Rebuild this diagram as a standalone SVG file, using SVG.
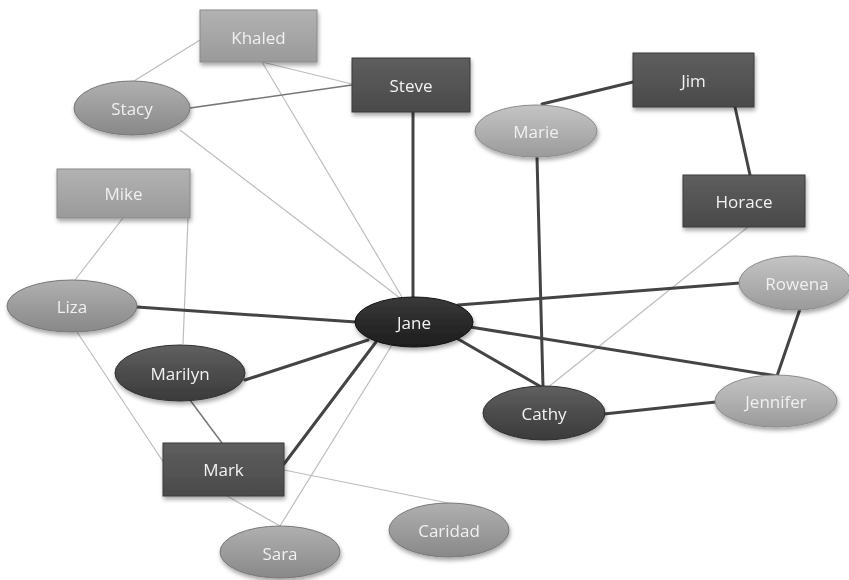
<svg xmlns="http://www.w3.org/2000/svg" width="849" height="580" viewBox="0 0 849 580">
<defs>
<filter id="sh" x="-20%" y="-20%" width="140%" height="160%"><feDropShadow dx="1" dy="3" stdDeviation="2" flood-color="#000" flood-opacity="0.35"/></filter>
<linearGradient id="gLight" x1="0" y1="0" x2="0" y2="1"><stop offset="0" stop-color="#c4c4c4"/><stop offset="0.5" stop-color="#b0b0b0"/><stop offset="1" stop-color="#9a9a9a"/></linearGradient>
<linearGradient id="gMid" x1="0" y1="0" x2="0" y2="1"><stop offset="0" stop-color="#b0b0b0"/><stop offset="0.5" stop-color="#9c9c9c"/><stop offset="1" stop-color="#888"/></linearGradient>
<linearGradient id="gRect" x1="0" y1="0" x2="0" y2="1"><stop offset="0" stop-color="#b2b2b2"/><stop offset="1" stop-color="#9a9a9a"/></linearGradient>
<linearGradient id="gDark" x1="0" y1="0" x2="0" y2="1"><stop offset="0" stop-color="#5e5e5e"/><stop offset="1" stop-color="#4a4a4a"/></linearGradient>
<linearGradient id="gDarkE" x1="0" y1="0" x2="0" y2="1"><stop offset="0" stop-color="#606060"/><stop offset="0.5" stop-color="#4c4c4c"/><stop offset="1" stop-color="#3a3a3a"/></linearGradient>
<linearGradient id="gJane" x1="0" y1="0" x2="0" y2="1"><stop offset="0" stop-color="#3a3a3a"/><stop offset="0.5" stop-color="#2a2a2a"/><stop offset="1" stop-color="#1e1e1e"/></linearGradient>
</defs>
<style>
.thick{stroke:#444;stroke-width:3;fill:none;stroke-linecap:round}
.thin{stroke:#bdbdbd;stroke-width:1.2;fill:none}
.mid{stroke:#777;stroke-width:1.5;fill:none}
.node{filter:url(#sh)}
.rl{fill:url(#gRect);stroke:#8a8a8a;stroke-width:1}
.rd{fill:url(#gDark);stroke:#3a3a3a;stroke-width:1}
.el{fill:url(#gLight);stroke:#8c8c8c;stroke-width:1}
.em{fill:url(#gMid);stroke:#777;stroke-width:1}
.ed{fill:url(#gDarkE);stroke:#2e2e2e;stroke-width:1}
.ej{fill:url(#gJane);stroke:#111;stroke-width:1}
text{font-family:"Open Sans","Noto Sans","Liberation Sans",sans-serif;font-size:17px;text-anchor:middle;dominant-baseline:central;fill:#f2f2f2}
.tl{fill:#f0f0f0}
</style>
<g id="connectors">
<line class="thin" x1="200" y1="40" x2="134" y2="81"/>
<line class="thin" x1="262" y1="62" x2="352" y2="84"/>
<line class="thin" x1="262" y1="62" x2="402" y2="297"/>
<line class="thin" x1="180" y1="130" x2="400" y2="298"/>
<line class="mid" x1="190" y1="108" x2="352" y2="85"/>
<line class="thick" x1="413" y1="112" x2="413" y2="297"/>
<line class="thick" x1="633" y1="82" x2="542" y2="104"/>
<line class="thick" x1="735" y1="107" x2="750" y2="175"/>
<line class="thick" x1="537" y1="157" x2="543" y2="387"/>
<line class="thin" x1="748" y1="227" x2="547" y2="388"/>
<line class="thick" x1="458" y1="305" x2="740" y2="283"/>
<line class="thick" x1="470" y1="327" x2="777" y2="376"/>
<line class="thick" x1="458" y1="339" x2="543" y2="388"/>
<line class="thick" x1="800" y1="309" x2="777" y2="376"/>
<line class="thick" x1="604" y1="414" x2="716" y2="402"/>
<line class="thin" x1="123" y1="218" x2="75" y2="280"/>
<line class="thin" x1="188" y1="218" x2="183" y2="344"/>
<line class="thick" x1="137" y1="307" x2="356" y2="322"/>
<line class="thin" x1="77" y1="332" x2="164" y2="463"/>
<line class="mid" x1="190" y1="400" x2="222" y2="443"/>
<line class="thick" x1="245" y1="380" x2="368" y2="340"/>
<line class="thick" x1="284" y1="464" x2="376" y2="342"/>
<line class="thin" x1="227" y1="496" x2="280" y2="526"/>
<line class="thin" x1="280" y1="526" x2="392" y2="345"/>
<line class="thin" x1="284" y1="470" x2="448" y2="503"/>
</g>
<g id="Khaled" class="node"><rect class="rl" x="200" y="10" width="117" height="52"/><text class="tl" x="258.5" y="37">Khaled</text></g>
<g id="Steve" class="node"><rect class="rd" x="352" y="58" width="118" height="54"/><text x="411" y="85">Steve</text></g>
<g id="Stacy" class="node"><ellipse class="em" cx="132" cy="108" rx="58" ry="27"/><text class="tl" x="132" y="108">Stacy</text></g>
<g id="Jim" class="node"><rect class="rd" x="633" y="53" width="121" height="54"/><text x="693.5" y="80">Jim</text></g>
<g id="Marie" class="node"><ellipse class="el" cx="536" cy="131" rx="61" ry="26"/><text class="tl" x="536" y="131">Marie</text></g>
<g id="Horace" class="node"><rect class="rd" x="683" y="175" width="122" height="52"/><text x="744" y="201">Horace</text></g>
<g id="Mike" class="node"><rect class="rl" x="57" y="169" width="133" height="49"/><text class="tl" x="123.5" y="193.5">Mike</text></g>
<g id="Liza" class="node"><ellipse class="em" cx="72" cy="306" rx="65" ry="26"/><text class="tl" x="72" y="306">Liza</text></g>
<g id="Marilyn" class="node"><ellipse class="ed" cx="180" cy="373" rx="65" ry="28"/><text x="180" y="373">Marilyn</text></g>
<g id="Jane" class="node"><ellipse class="ej" cx="414" cy="322" rx="59" ry="25"/><text x="414" y="322">Jane</text></g>
<g id="Rowena" class="node"><ellipse class="el" cx="795" cy="283" rx="56" ry="27"/><text class="tl" x="797" y="283">Rowena</text></g>
<g id="Cathy" class="node"><ellipse class="ed" cx="544" cy="413" rx="61" ry="27"/><text x="544" y="413">Cathy</text></g>
<g id="Jennifer" class="node"><ellipse class="el" cx="776" cy="401" rx="61" ry="26"/><text class="tl" x="776" y="401">Jennifer</text></g>
<g id="Mark" class="node"><rect class="rd" x="163" y="443" width="121" height="53"/><text x="223.5" y="469.5">Mark</text></g>
<g id="Sara" class="node"><ellipse class="em" cx="280" cy="552" rx="60" ry="26"/><text class="tl" x="280" y="553">Sara</text></g>
<g id="Caridad" class="node"><ellipse class="em" cx="449" cy="530" rx="60" ry="27"/><text class="tl" x="449" y="530">Caridad</text></g>
</svg>
